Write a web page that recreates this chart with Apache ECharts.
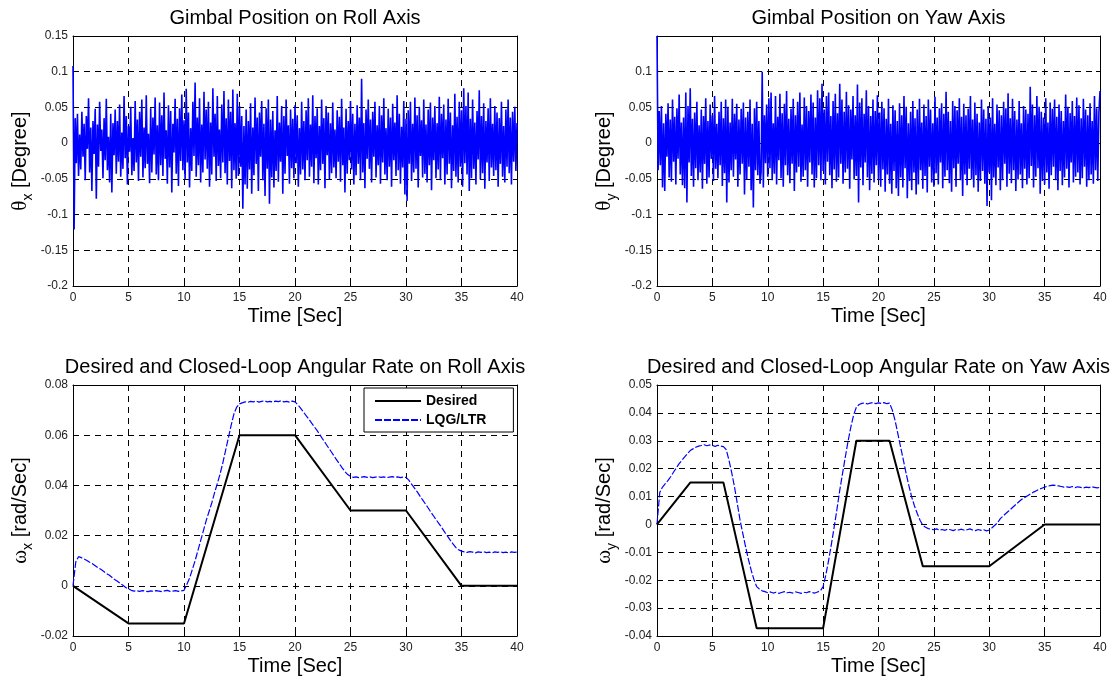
<!DOCTYPE html>
<html><head><meta charset="utf-8">
<script src="https://cdn.jsdelivr.net/npm/echarts@6/dist/echarts.min.js"></script>
<style>html,body{margin:0;padding:0;background:#fff}#c{width:1114px;height:679px}</style>
</head><body><div id="c"></div>
<script>
// ---------- data ----------
const rollNoise = [
.108,-.121,.035,-.028,.041,-.046,.012,-.037,.044,-.019,.027,-.052,.038,-.008,.063,-.041,.022,-.067,.031,-.015,
.048,-.078,.026,-.033,.058,-.011,.019,-.049,.035,-.024,.062,-.038,.009,-.055,.041,-.069,.028,-.017,.047,-.043,
.031,-.026,.054,-.047,.015,-.036,.066,-.021,.038,-.058,.024,-.012,.051,-.045,.007,-.039,.059,-.027,.033,-.053,
.044,-.019,.061,-.048,.022,-.035,.067,-.029,.013,-.056,.049,-.041,.036,-.016,.064,-.044,.025,-.052,.057,-.031,
.039,-.046,.071,-.022,.018,-.057,.053,-.034,.045,-.069,.027,-.013,.062,-.043,.034,-.060,.049,-.025,.068,-.038,
.032,-.051,.076,-.027,.043,-.062,.021,-.039,.058,-.018,.085,-.047,.036,-.031,.063,-.055,.026,-.041,.072,-.023,
.047,-.036,.058,-.061,.029,-.044,.077,-.019,.041,-.053,.066,-.032,.019,-.049,.054,-.027,.073,-.042,.035,-.058,
.061,-.025,.044,-.063,.075,-.038,.028,-.050,.069,-.046,.052,-.033,.038,-.092,.024,-.058,.047,-.064,.031,-.037,
.056,-.071,.022,-.045,.064,-.029,.036,-.067,.043,-.019,.059,-.052,.027,-.074,.049,-.036,.061,-.085,.033,-.048,
.045,-.062,.018,-.039,.066,-.054,.029,-.026,.052,-.071,.038,-.043,.061,-.018,.025,-.057,.047,-.035,.034,-.049,
.053,-.028,.039,-.061,.021,-.044,.058,-.037,.031,-.052,.046,-.024,.063,-.047,.026,-.033,.067,-.056,.038,-.021,
.049,-.058,.024,-.038,.061,-.029,.035,-.063,.052,-.017,.043,-.051,.028,-.042,.057,-.034,.019,-.049,.046,-.026,
.037,-.054,.062,-.031,.022,-.069,.048,-.043,.031,-.024,.059,-.037,.041,-.058,.027,-.045,.053,-.029,.036,-.052,
.090,-.041,.028,-.063,.047,-.022,.061,-.036,.033,-.055,.044,-.019,.058,-.048,.025,-.031,.052,-.057,.039,-.027,
.063,-.044,.021,-.052,.048,-.033,.036,-.061,.055,-.024,.029,-.046,.067,-.038,.041,-.057,.023,-.034,.059,-.072,
.034,-.081,.046,-.029,.058,-.053,.027,-.041,.064,-.036,.039,-.062,.051,-.018,.032,-.048,.061,-.043,.026,-.055,
.047,-.031,.057,-.066,.036,-.024,.052,-.049,.028,-.037,.065,-.052,.041,-.021,.054,-.058,.033,-.044,.062,-.029,
.043,-.063,.025,-.039,.069,-.047,.037,-.055,.058,-.033,.046,-.061,.077,-.028,.052,-.044,.071,-.067,.034,-.049,
.061,-.036,.029,-.058,.045,-.023,.074,-.051,.038,-.042,.056,-.064,.031,-.027,.049,-.053,.063,-.034,.027,-.046,
.052,-.038,.043,-.061,.035,-.029,.058,-.047,.024,-.055,.047,-.033,.061,-.042,.036,-.058,.044,-.026,.051,-.039,
.028];

const yawNoise = [
.150,-.038,.045,-.031,.052,-.062,.028,-.067,.041,-.019,.056,-.048,.033,-.054,.061,-.026,.037,-.058,.049,-.022,
.068,-.044,.029,-.059,.036,-.063,.071,-.083,.052,-.027,.077,-.046,.034,-.061,.043,-.035,.058,-.052,.025,-.041,
.047,-.064,.038,-.029,.063,-.057,.031,-.048,.054,-.022,.039,-.053,.066,-.036,.027,-.049,.044,-.031,.058,-.060,
.035,-.042,.061,-.083,.051,-.055,.029,-.038,.062,-.047,.041,-.023,.055,-.061,.033,-.044,.048,-.029,.057,-.072,
.036,-.051,.044,-.033,.061,-.066,.027,-.090,.049,-.038,.058,-.045,.031,-.057,-.041,.100,-.062,.039,-.028,.054,
-.047,.063,-.035,.071,-.052,.028,-.043,.066,-.058,.037,-.024,.069,-.049,.042,-.061,.055,-.031,.073,-.045,.034,
-.056,.048,-.029,.062,-.067,.039,-.041,.058,-.033,.071,-.054,.026,-.047,.064,-.038,.052,-.061,.045,-.027,.068,
-.044,.057,-.062,.036,-.049,.074,-.031,.063,-.052,.083,-.039,.047,-.058,.066,-.026,.071,-.045,.038,-.063,.059,
-.037,.069,-.054,.042,-.048,.083,-.029,.061,-.057,.044,-.041,.072,-.036,.053,-.064,.047,-.023,.066,-.051,.039,
-.046,.082,-.083,.057,-.034,.063,-.059,.041,-.027,.074,-.048,.052,-.066,.038,-.043,.061,-.055,.045,-.031,.067,
-.052,.043,-.061,.058,-.037,.049,-.068,.034,-.044,.062,-.057,.027,-.071,.053,-.039,.046,-.063,.031,-.074,.056,
-.048,.039,-.062,.066,-.035,.051,-.077,.028,-.053,.044,-.066,.059,-.041,.035,-.072,.047,-.058,.062,-.038,.029,
-.064,.054,-.046,.038,-.069,.061,-.033,.047,-.055,.028,-.061,.065,-.042,.036,-.058,.049,-.027,.056,-.063,.041,
-.047,.072,-.038,.044,-.056,.031,-.068,.059,-.035,.052,-.061,.046,-.029,.063,-.052,.037,-.074,.055,-.044,.039,
-.059,.048,-.036,.066,-.051,.033,-.062,.057,-.045,.041,-.068,.029,-.053,.061,-.039,.047,-.057,.034,-.088,.052,
-.041,.036,-.080,.063,-.048,.027,-.059,.054,-.034,.046,-.066,.039,-.052,.058,-.029,.049,-.061,.070,-.043,.035,
-.056,.062,-.038,.045,-.067,.033,-.051,.059,-.044,.028,-.063,.052,-.036,.047,-.058,.041,-.049,.079,-.032,.054,
-.062,.039,-.047,.066,-.035,.051,-.071,.044,-.053,.036,-.058,.063,-.041,.029,-.064,.057,-.045,.048,-.033,.061,
-.052,.037,-.066,.054,-.039,.045,-.059,.031,-.048,.068,-.036,.051,-.062,.042,-.027,.059,-.055,.038,-.047,.064,
-.041,.053,-.058,.035,-.049,.062,-.033,.047,-.061,.039,-.052,.056,-.044,.031,-.057,.066,-.038,.049,-.053,.042,
.073];

const rollDesiredT = [0, 5, 10, 15, 20, 25, 30, 35, 40];
const rollDesired  = [0, -0.015, -0.015, 0.06, 0.06, 0.03, 0.03, 0, 0];
const yawDesiredT  = [0, 3, 6, 9, 15, 18, 21, 24, 30, 35, 40];
const yawDesired   = [0, 0.015, 0.015, -0.0372, -0.0372, 0.03, 0.03, -0.015, -0.015, 0, 0];

// closed-loop LQG/LTR response, sampled every 0.25 s from 0 to 40 s
const rollLqg = [
0,.0095,.0116,.0112,.0107,.0101,.0094,.0088,.0080,.0072,.0066,.0058,.0049,.0043,.0034,.0025,.0018,.0010,.0002,-.0007,
-.0012,-.0018,-.0021,-.0020,-.0022,-.0019,-.0021,-.0023,-.0020,-.0022,-.0019,-.0021,-.0023,-.0020,-.0018,-.0022,-.0021,-.0019,-.0022,-.0020,
-.0018,
.0005,.0030,.0065,.0100,.0140,.0180,.0220,.0260,.0295,.0330,.0370,.0407,.0445,.0490,.0540,.0590,.0640,.0685,.0712,.0725,
.0729,.0733,.0731,.0735,.0733,.0736,.0732,.0735,.0737,.0733,.0735,.0732,.0736,.0734,.0737,.0733,.0735,.0732,.0736,.0733,
.0722,.0708,.0693,.0678,.0664,.0648,.0633,.0618,.0601,.0584,.0568,.0551,.0535,.0518,.0502,.0486,.0470,.0455,.0443,.0436,
.0432,.0434,.0431,.0433,.0435,.0432,.0434,.0431,.0433,.0435,.0432,.0434,.0431,.0433,.0435,.0432,.0434,.0431,.0433,.0432,
.0421,.0405,.0390,.0375,.0358,.0342,.0326,.0310,.0293,.0277,.0261,.0246,.0230,.0213,.0197,.0181,.0166,.0152,.0143,.0138,
.0135,.0133,.0136,.0134,.0131,.0135,.0133,.0136,.0132,.0134,.0131,.0135,.0133,.0136,.0132,.0134,.0131,.0135,.0133,.0134];

const yawLqg = [
0,.0115,.0134,.0146,.0158,.0172,.0188,.0203,.0218,.0230,.0242,.0254,.0265,.0271,.0277,.0281,.0283,.0286,.0282,.0285,
.0283,.0280,.0284,.0281,.0279,.0268,.0230,.0185,.0134,.0075,.0015,-.0033,-.0080,-.0124,-.0164,-.0197,-.0223,-.0232,-.0238,-.0241,
-.0245,
-.0242,-.0246,-.0243,-.0247,-.0244,-.0241,-.0245,-.0243,-.0246,-.0242,-.0244,-.0247,-.0243,-.0245,-.0241,-.0244,-.0246,-.0242,-.0238,-.0223,
-.0180,-.0128,-.0070,-.0009,.0055,.0122,.0182,.0241,.0298,.0349,.0392,.0420,.0430,.0434,.0436,.0432,.0435,.0437,.0433,.0436,
.0434,.0437,.0433,.0435,.0410,.0372,.0325,.0277,.0230,.0182,.0138,.0098,.0066,.0039,.0015,-.0003,-.0010,-.0015,-.0017,-.0019,
-.0016,-.0020,-.0018,-.0021,-.0017,-.0019,-.0022,-.0018,-.0020,-.0017,-.0021,-.0019,-.0016,-.0020,-.0022,-.0018,-.0021,-.0019,-.0023,-.0020,
-.0012,-.0003,.0006,.0021,.0030,.0039,.0048,.0057,.0066,.0075,.0084,.0092,.0098,.0104,.0110,.0116,.0121,.0126,.0130,.0134,
.0137,.0139,.0141,.0140,.0138,.0136,.0134,.0135,.0133,.0136,.0132,.0135,.0133,.0131,.0134,.0132,.0135,.0133,.0131,.0133];

const panelTitles = [
  'Gimbal Position on Roll Axis',
  'Gimbal Position on Yaw Axis',
  'Desired and Closed-Loop Angular Rate on Roll Axis',
  'Desired and Closed-Loop Angular Rate on Yaw Axis'
];
const xName = 'Time [Sec]';
const yNames = [['θ','x','[Degree]'],['θ','y','[Degree]'],['ω','x','[rad/Sec]'],['ω','y','[rad/Sec]']];
const yRanges = [[-0.2,0.15,0.05],[-0.2,0.15,0.05],[-0.02,0.08,0.02],[-0.04,0.05,0.01]];
const legendNames = ['Desired','LQG/LTR'];

// ---------- layout ----------
const FONT = 'Liberation Sans, Arial, Helvetica, sans-serif';
const SERIF = 'Liberation Serif, DejaVu Serif, serif';
const grids = [
  {left:73,  top:36,  width:444, height:250},
  {left:657, top:36,  width:443, height:250},
  {left:73,  top:385, width:444, height:251},
  {left:657, top:385, width:443, height:251}
];
const titlePos = [[295,18],[878.5,18],[295,367],[878.5,367]];

const dash = {color:'#000', type:[6,5], width:1};
const xAxes = [], yAxes = [];
grids.forEach((g, gi) => {
  xAxes.push({
    type:'value', gridIndex:gi, min:0, max:40, interval:5, position:'bottom',
    name:xName, nameLocation:'middle', nameGap:20,
    nameTextStyle:{fontSize:20, color:'#000', fontFamily:FONT},
    axisLine:{show:true, onZero:false, lineStyle:{color:'#000', width:1}},
    axisTick:{show:true, inside:true, length:4, lineStyle:{color:'#000'}},
    axisLabel:{fontSize:12, color:'#222', margin:6, fontFamily:FONT},
    splitLine:{show:true, lineStyle:dash}
  });
  xAxes.push({
    type:'value', gridIndex:gi, min:0, max:40, interval:5, position:'top',
    axisLine:{show:true, onZero:false, lineStyle:{color:'#000', width:1}},
    axisTick:{show:true, inside:true, length:4, lineStyle:{color:'#000'}},
    axisLabel:{show:false}, splitLine:{show:false}
  });
  const r = yRanges[gi], n = yNames[gi];
  yAxes.push({
    type:'value', gridIndex:gi, min:r[0], max:r[1], interval:r[2], position:'left',
    name:'{g|' + n[0] + '}{s|' + n[1] + '}{n| ' + n[2] + '}',
    nameLocation:'middle', nameRotate:90, nameGap:38,
    nameTextStyle:{
      color:'#000',
      rich:{
        g:{fontSize:21, fontFamily:SERIF, color:'#000', lineHeight:30},
        s:{fontSize:14, fontFamily:FONT, color:'#000', lineHeight:14, padding:[16,0,0,0]},
        n:{fontSize:20, fontFamily:FONT, color:'#000', lineHeight:30}
      }
    },
    axisLine:{show:true, onZero:false, lineStyle:{color:'#000', width:1}},
    axisTick:{show:true, inside:true, length:4, lineStyle:{color:'#000'}},
    axisLabel:{fontSize:12, color:'#222', margin:5, fontFamily:FONT, showMaxLabel: gi !== 1},
    splitLine:{show:true, lineStyle:dash}
  });
  yAxes.push({
    type:'value', gridIndex:gi, min:r[0], max:r[1], interval:r[2], position:'right',
    axisLine:{show:true, onZero:false, lineStyle:{color:'#000', width:1}},
    axisTick:{show:true, inside:true, length:4, lineStyle:{color:'#000'}},
    axisLabel:{show:false}, splitLine:{show:false}
  });
});

function pairsUniform(vals) {
  const dt = 40 / (vals.length - 1);
  return vals.map((v, i) => [i * dt, v]);
}
function pairs(ts, vals) { return ts.map((t, i) => [t, vals[i]]); }

const blue = '#0000ff';
const series = [
  {type:'line', name:'roll', xAxisIndex:0, yAxisIndex:0, data:pairsUniform(rollNoise),
   symbol:'none', lineStyle:{color:blue, width:1.6}, silent:true},
  {type:'line', name:'yaw', xAxisIndex:2, yAxisIndex:2, data:pairsUniform(yawNoise),
   symbol:'none', lineStyle:{color:blue, width:1.6}, silent:true},
  {type:'line', name:legendNames[0], xAxisIndex:4, yAxisIndex:4, data:pairs(rollDesiredT, rollDesired),
   symbol:'none', lineStyle:{color:'#000', width:2}, itemStyle:{color:'#000'}, z:3},
  {type:'line', name:legendNames[1], xAxisIndex:4, yAxisIndex:4, data:pairsUniform(rollLqg),
   symbol:'none', lineStyle:{color:blue, width:1.2, type:[7,2]}, itemStyle:{color:blue}, z:2},
  {type:'line', name:legendNames[0], xAxisIndex:6, yAxisIndex:6, data:pairs(yawDesiredT, yawDesired),
   symbol:'none', lineStyle:{color:'#000', width:2}, itemStyle:{color:'#000'}, z:3},
  {type:'line', name:legendNames[1], xAxisIndex:6, yAxisIndex:6, data:pairsUniform(yawLqg),
   symbol:'none', lineStyle:{color:blue, width:1.2, type:[7,2]}, itemStyle:{color:blue}, z:2}
];

const graphics = panelTitles.map((t, i) => ({
  type:'text', x:titlePos[i][0], y:titlePos[i][1],
  style:{text:t, fill:'#000', font:'20px ' + FONT, textAlign:'center', textVerticalAlign:'middle'}
}));

const chart = echarts.init(document.getElementById('c'), null, {renderer:'canvas'});
chart.setOption({
  animation:false,
  backgroundColor:'#fff',
  grid:grids.map(g => Object.assign({containLabel:false}, g)),
  xAxis:xAxes,
  yAxis:yAxes,
  series:series,
  graphic:graphics,
  legend:{
    data:legendNames, left:364, top:388, orient:'vertical',
    itemWidth:46, itemHeight:14, itemGap:5, padding:[6,27,5,10],
    borderColor:'#000', borderWidth:1, backgroundColor:'#fff',
    selectedMode:false, z:10,
    itemStyle:{opacity:0, borderWidth:0},
    textStyle:{fontSize:14, fontWeight:'bold', color:'#000', fontFamily:FONT}
  }
});
</script>
</body></html>
